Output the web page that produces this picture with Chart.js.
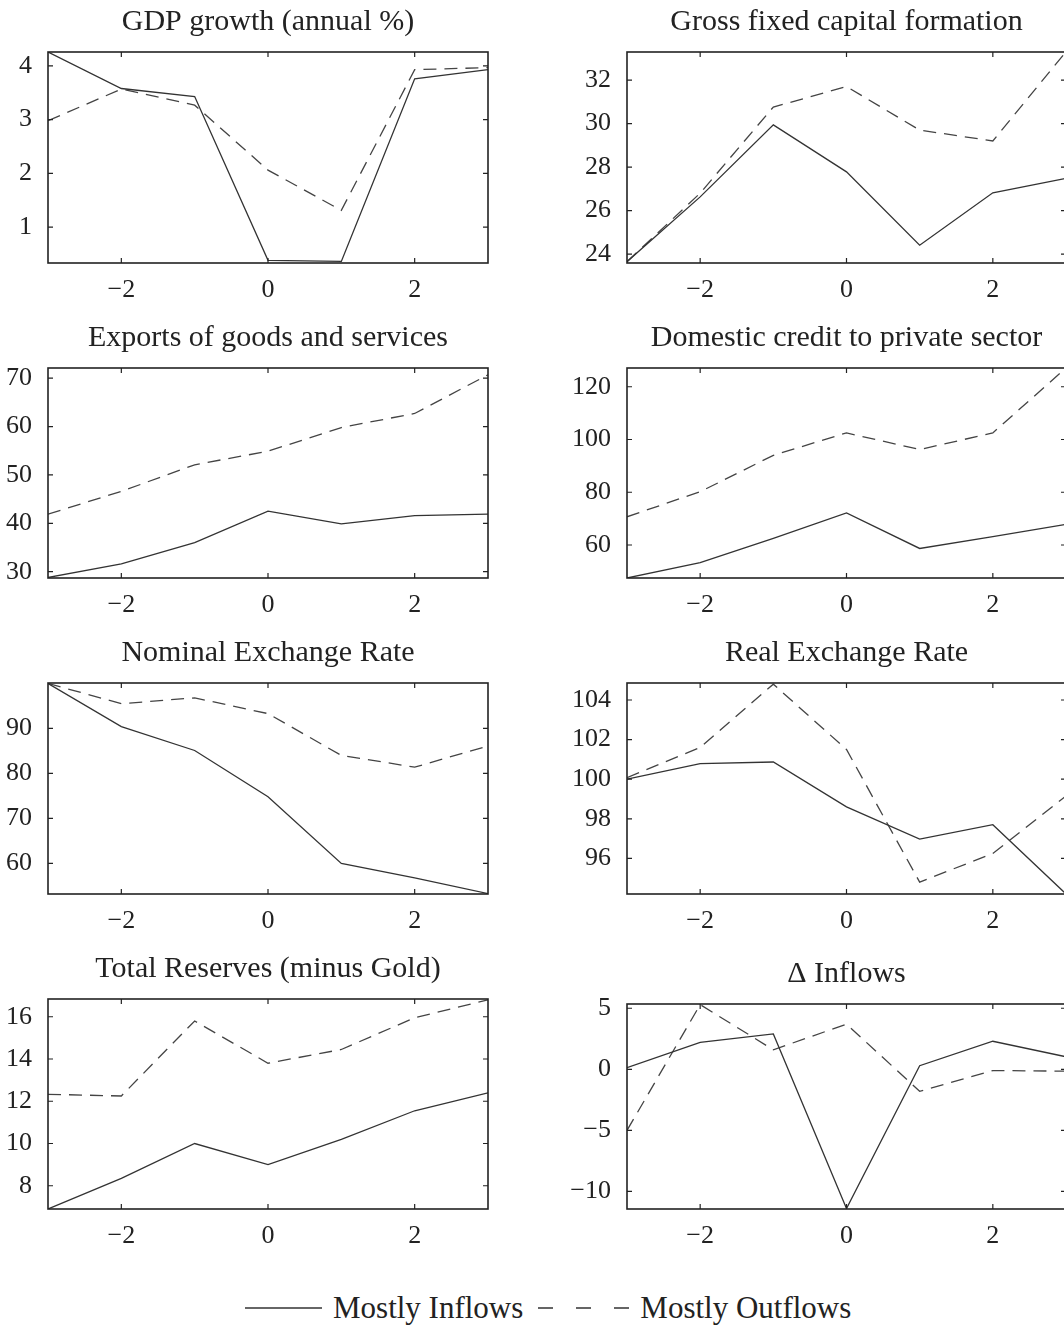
<!DOCTYPE html>
<html>
<head>
<meta charset="utf-8">
<script src="https://cdn.jsdelivr.net/npm/chart.js@4.4.1/dist/chart.umd.min.js"></script>
<style>
  html, body { margin: 0; padding: 0; background: #fff; overflow: hidden; }
  body { width: 1064px; height: 1328px; position: relative; }
  canvas { position: absolute; }
  #legend { position: absolute; left: 245px; top: 1289px; height: 38px; display: flex; align-items: center;
            font-family: 'Liberation Serif', serif; font-size: 31px; color: #222; white-space: nowrap; }
  #legend svg { display: block; }
</style>
</head>
<body>
<div id="legend">
  <svg width="78" height="10"><line x1="0" y1="5" x2="77" y2="5" stroke="#333" stroke-width="1.5"/></svg>
  <span style="margin-left:10px">Mostly Inflows</span>
  <svg width="92" height="10" style="margin-left:15px"><line x1="0" y1="5" x2="91" y2="5" stroke="#333" stroke-width="1.5" stroke-dasharray="15 23"/></svg>
  <span style="margin-left:10px">Mostly Outflows</span>
</div>
<script>
// event time, years around the episode
const categories = [-3, -2, -1, 0, 1, 2, 3];
const xTicks = [-2, 0, 2];

const gdpIn  = [4.26, 3.58, 3.43, 0.38, 0.36, 3.76, 3.93];
const gdpOut = [2.98, 3.57, 3.27, 2.06, 1.31, 3.93, 3.97];
const gdpTicks = [1, 2, 3, 4];
const gdpRange = [0.33, 4.26];

const gfcfIn  = [23.65, 26.63, 29.94, 27.78, 24.41, 26.82, 27.48];
const gfcfOut = [23.65, 26.8, 30.76, 31.7, 29.7, 29.2, 33.3];
const gfcfTicks = [24, 26, 28, 30, 32];
const gfcfRange = [23.59, 33.29];

const expIn  = [28.8, 31.6, 36.0, 42.5, 39.9, 41.6, 41.9];
const expOut = [41.9, 46.6, 52.1, 54.9, 59.8, 62.7, 70.7];
const expTicks = [30, 40, 50, 60, 70];
const expRange = [28.7, 72.1];

const credIn  = [47.5, 53.3, 62.5, 72.2, 58.7, 63.2, 67.8];
const credOut = [70.7, 80.2, 94, 102.5, 96.2, 102.5, 127.1];
const credTicks = [60, 80, 100, 120];
const credRange = [47.5, 127.1];

const nomIn  = [100, 90.4, 85.1, 74.8, 60, 56.8, 53.3];
const nomOut = [100, 95.5, 96.8, 93.3, 84.0, 81.4, 86.1];
const nomTicks = [60, 70, 80, 90];
const nomRange = [53.2, 100.1];

const realIn  = [100, 100.79, 100.87, 98.6, 96.97, 97.7, 94.2];
const realOut = [100.08, 101.6, 104.8, 101.5, 94.8, 96.25, 99.15];
const realTicks = [96, 98, 100, 102, 104];
const realRange = [94.2, 104.86];

const resIn  = [6.9, 8.35, 10.0, 9.0, 10.2, 11.55, 12.4];
const resOut = [12.33, 12.25, 15.8, 13.8, 14.45, 15.95, 16.8];
const resTicks = [8, 10, 12, 14, 16];
const resRange = [6.9, 16.84];

const inflIn  = [0.14, 2.2, 2.9, -11.4, 0.3, 2.3, 1.03];
const inflOut = [-5.0, 5.3, 1.6, 3.7, -1.8, -0.1, -0.15];
const inflTicks = [-10, -5, 0, 5];
const inflRange = [-11.44, 5.35];

const FONT = "'Liberation Serif', 'Times New Roman', serif";
const INK = '#222';

// box around the plot plus inward ticks on all four sides (matlab look)
const frame = {
  id: 'frame',
  afterDraw(chart) {
    const { ctx, chartArea: a, scales: { x, y } } = chart;
    ctx.save();
    ctx.strokeStyle = INK;
    ctx.lineWidth = 1.6;
    ctx.strokeRect(a.left, a.top, a.right - a.left, a.bottom - a.top);
    ctx.lineWidth = 1.2;
    ctx.beginPath();
    x.ticks.forEach(t => {
      const px = x.getPixelForValue(t.value);
      ctx.moveTo(px, a.top); ctx.lineTo(px, a.top + 5);
      ctx.moveTo(px, a.bottom); ctx.lineTo(px, a.bottom - 5);
    });
    y.ticks.forEach(t => {
      const py = y.getPixelForValue(t.value);
      ctx.moveTo(a.left, py); ctx.lineTo(a.left + 5, py);
      ctx.moveTo(a.right, py); ctx.lineTo(a.right - 5, py);
    });
    ctx.stroke();
    ctx.restore();
  }
};

const fmt = v => String(v).replace('-', '\u2212');

function panel(title, inflows, outflows, yTicks, yRange, pos) {
  const c = document.createElement('canvas');
  const h = pos.bottom - pos.top + 52 + 42;
  c.width = pos.width;
  c.height = h;
  c.style.left = pos.left + 'px';
  c.style.top = (pos.top - 52) + 'px';
  document.body.appendChild(c);

  new Chart(c, {
    type: 'line',
    data: {
      datasets: [
        {
          label: 'Mostly Inflows',
          data: categories.map((x, i) => ({ x, y: inflows[i] })),
          borderColor: '#333',
          borderWidth: 1.3,
          pointRadius: 0,
        },
        {
          label: 'Mostly Outflows',
          data: categories.map((x, i) => ({ x, y: outflows[i] })),
          borderColor: '#444',
          borderWidth: 1.3,
          borderDash: [13, 8],
          pointRadius: 0,
        },
      ],
    },
    options: {
      responsive: false,
      animation: false,
      events: [],
      plugins: {
        legend: { display: false },
        tooltip: { enabled: false },
        title: {
          display: true,
          text: title,
          color: INK,
          font: { family: FONT, size: 30, weight: 'normal' },
          padding: { top: 4, bottom: 12 },
        },
      },
      scales: {
        x: {
          type: 'linear',
          min: -3,
          max: 3,
          grid: { display: false },
          border: { display: false },
          ticks: { color: INK, font: { family: FONT, size: 26 }, padding: 4, maxRotation: 0, callback: fmt },
          afterBuildTicks: s => { s.ticks = xTicks.map(v => ({ value: v })); },
          afterFit: s => { s.height = 42; },
        },
        y: {
          min: yRange[0],
          max: yRange[1],
          grid: { display: false },
          border: { display: false },
          ticks: { color: INK, font: { family: FONT, size: 26 }, padding: 8, callback: fmt },
          afterBuildTicks: s => { s.ticks = yTicks.map(v => ({ value: v })); },
          afterFit: s => { s.width = pos.axis; },
        },
        // empty right axis, same width as the left one, keeps the title centred over the plot
        y2: {
          position: 'right',
          min: yRange[0],
          max: yRange[1],
          grid: { display: false },
          border: { display: false },
          ticks: { display: false },
          afterFit: s => { s.width = pos.axis; },
        },
      },
    },
    plugins: [frame],
  });
}

const L = { left: 0, width: 536, axis: 48 };
const R = { left: 560, width: 573, axis: 67 };

panel('GDP growth (annual %)', gdpIn, gdpOut, gdpTicks, gdpRange, { ...L, top: 52, bottom: 263 });
panel('Gross fixed capital formation', gfcfIn, gfcfOut, gfcfTicks, gfcfRange, { ...R, top: 52, bottom: 263 });
panel('Exports of goods and services', expIn, expOut, expTicks, expRange, { ...L, top: 368, bottom: 578 });
panel('Domestic credit to private sector', credIn, credOut, credTicks, credRange, { ...R, top: 368, bottom: 578 });
panel('Nominal Exchange Rate', nomIn, nomOut, nomTicks, nomRange, { ...L, top: 683, bottom: 894 });
panel('Real Exchange Rate', realIn, realOut, realTicks, realRange, { ...R, top: 683, bottom: 894 });
panel('Total Reserves (minus Gold)', resIn, resOut, resTicks, resRange, { ...L, top: 999, bottom: 1209 });
panel('\u0394 Inflows', inflIn, inflOut, inflTicks, inflRange, { ...R, top: 1004, bottom: 1209 });
</script>
</body>
</html>
